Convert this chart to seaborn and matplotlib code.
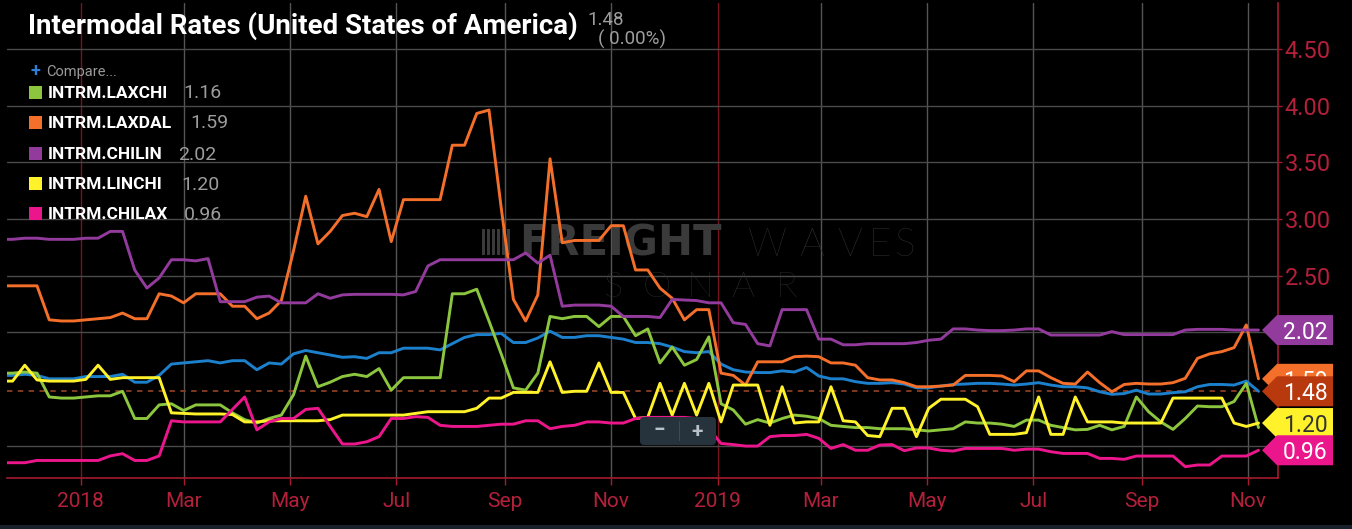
import numpy as np
import pandas as pd
import matplotlib
matplotlib.use("Agg")
import matplotlib.pyplot as plt
import matplotlib.transforms as mtransforms
from matplotlib.patches import Polygon, Rectangle, FancyBboxPatch
import seaborn as sns

# ---------------- data (weekly) ----------------
start_date = "2017-11-16"

usa = [1.62, 1.62, 1.63, 1.62, 1.59, 1.59, 1.59, 1.61, 1.61, 1.61, 1.63, 1.56, 1.56, 1.62, 1.72, 1.73,
       1.74, 1.75, 1.73, 1.75, 1.75, 1.67, 1.73, 1.72, 1.81, 1.84, 1.82, 1.80,
       1.78, 1.785, 1.77, 1.82, 1.82, 1.86, 1.86, 1.86, 1.845, 1.90, 1.955, 1.98, 1.98, 1.99, 1.91,
       1.91, 1.95, 2.01, 1.955, 1.955, 1.97, 1.97, 1.955, 1.94, 1.91, 1.91,
       1.90, 1.87, 1.83, 1.82, 1.83, 1.72, 1.67, 1.65, 1.645, 1.645, 1.66, 1.65, 1.69, 1.615, 1.59,
       1.59, 1.565, 1.55, 1.55, 1.556, 1.544, 1.51, 1.51, 1.526, 1.54, 1.544,
       1.55, 1.55, 1.544, 1.535, 1.544, 1.556, 1.535, 1.52, 1.52, 1.51, 1.476, 1.453, 1.46, 1.49,
       1.456, 1.456, 1.468, 1.476, 1.52, 1.54, 1.54, 1.535, 1.57, 1.48]

laxchi = [1.64, 1.64, 1.65, 1.64, 1.43, 1.42, 1.42, 1.43, 1.44, 1.44, 1.48, 1.24, 1.24, 1.36, 1.37, 1.31,
          1.36, 1.36, 1.36, 1.29, 1.23, 1.20, 1.24, 1.27, 1.45, 1.79, 1.52, 1.56,
          1.61, 1.63, 1.61, 1.68, 1.49, 1.60, 1.60, 1.60, 1.60, 2.34, 2.34, 2.38, 2.10, 1.81, 1.51,
          1.49, 1.64, 2.14, 2.12, 2.14, 2.14, 2.05, 2.14, 2.14, 1.97, 2.03,
          1.73, 1.87, 1.71, 1.76, 1.96, 1.37, 1.315, 1.19, 1.23, 1.20, 1.24, 1.27, 1.26, 1.24, 1.18,
          1.17, 1.16, 1.16, 1.15, 1.15, 1.15, 1.14, 1.13, 1.14, 1.15, 1.21,
          1.20, 1.20, 1.19, 1.17, 1.226, 1.226, 1.18, 1.16, 1.14, 1.144, 1.18, 1.14, 1.17, 1.43,
          1.30, 1.21, 1.144, 1.24, 1.35, 1.344, 1.344, 1.39, 1.55, 1.16]

laxdal = [2.41, 2.41, 2.41, 2.41, 2.11, 2.10, 2.10, 2.11, 2.12, 2.13, 2.17, 2.12, 2.12, 2.34, 2.32, 2.26,
          2.34, 2.34, 2.34, 2.23, 2.23, 2.12, 2.17, 2.28, 2.72, 3.20, 2.78, 2.89,
          3.03, 3.05, 3.02, 3.26, 2.80, 3.17, 3.17, 3.17, 3.17, 3.65, 3.65, 3.93, 3.96, 3.10, 2.29,
          2.10, 2.33, 3.53, 2.79, 2.81, 2.81, 2.81, 2.94, 2.94, 2.55, 2.55,
          2.39, 2.30, 2.11, 2.20, 2.20, 1.64, 1.62, 1.535, 1.74, 1.74, 1.74, 1.785, 1.79, 1.785, 1.73,
          1.73, 1.71, 1.60, 1.58, 1.58, 1.556, 1.52, 1.52, 1.526, 1.535, 1.62,
          1.62, 1.62, 1.615, 1.565, 1.66, 1.66, 1.60, 1.55, 1.544, 1.65, 1.556, 1.476, 1.54, 1.55,
          1.544, 1.544, 1.556, 1.594, 1.77, 1.81, 1.83, 1.865, 2.065, 1.59]

chilin = [2.82, 2.82, 2.83, 2.83, 2.82, 2.82, 2.82, 2.83, 2.83, 2.89, 2.89, 2.55, 2.39, 2.48, 2.64, 2.64,
          2.63, 2.65, 2.27, 2.27, 2.27, 2.31, 2.32, 2.26, 2.26, 2.26, 2.34, 2.30,
          2.33, 2.335, 2.335, 2.335, 2.335, 2.33, 2.36, 2.585, 2.64, 2.64, 2.64, 2.64, 2.64, 2.64, 2.64,
          2.70, 2.61, 2.68, 2.23, 2.24, 2.24, 2.24, 2.23, 2.14, 2.14, 2.14,
          2.13, 2.29, 2.285, 2.28, 2.26, 2.26, 2.085, 2.07, 1.90, 1.88, 2.20, 2.20, 2.20, 1.94, 1.94,
          1.89, 1.89, 1.90, 1.90, 1.90, 1.90, 1.91, 1.93, 1.94, 2.03, 2.03,
          2.02, 2.015, 2.015, 2.02, 2.03, 2.03, 1.976, 1.976, 1.976, 1.976, 1.976, 2.006, 1.98, 1.98,
          1.98, 1.98, 1.98, 2.02, 2.026, 2.026, 2.026, 2.02, 2.02, 2.02]

linchi = [1.57, 1.57, 1.71, 1.58, 1.57, 1.57, 1.57, 1.585, 1.71, 1.585, 1.60, 1.60, 1.60, 1.60, 1.29, 1.285,
          1.28, 1.28, 1.28, 1.275, 1.21, 1.21, 1.22, 1.22, 1.22, 1.22, 1.22, 1.23,
          1.27, 1.27, 1.27, 1.27, 1.27, 1.27, 1.285, 1.30, 1.30, 1.30, 1.30, 1.33, 1.42, 1.42, 1.47,
          1.47, 1.47, 1.74, 1.47, 1.48, 1.48, 1.73, 1.47, 1.47, 1.24, 1.25,
          1.55, 1.27, 1.55, 1.27, 1.55, 1.21, 1.535, 1.535, 1.535, 1.18, 1.52, 1.20, 1.21, 1.21, 1.52,
          1.22, 1.21, 1.09, 1.08, 1.33, 1.33, 1.08, 1.33, 1.41, 1.41, 1.41,
          1.344, 1.10, 1.10, 1.10, 1.115, 1.43, 1.10, 1.10, 1.43, 1.21, 1.21, 1.21, 1.20, 1.20,
          1.20, 1.20, 1.42, 1.42, 1.42, 1.42, 1.42, 1.20, 1.17, 1.20]

chilax = [0.85, 0.85, 0.85, 0.87, 0.87, 0.87, 0.87, 0.87, 0.87, 0.91, 0.93, 0.87, 0.87, 0.91, 1.22, 1.21,
          1.21, 1.21, 1.21, 1.32, 1.43, 1.14, 1.21, 1.24, 1.24, 1.32, 1.33, 1.17,
          1.015, 1.015, 1.035, 1.08, 1.24, 1.24, 1.256, 1.25, 1.18, 1.17, 1.17, 1.17, 1.18, 1.19, 1.19,
          1.22, 1.22, 1.15, 1.17, 1.18, 1.21, 1.21, 1.20, 1.20, 1.24, 1.25,
          1.25, 1.25, 1.25, 1.24, 1.15, 1.02, 1.01, 0.997, 0.997, 1.08, 1.09, 1.09, 1.10, 1.065, 0.976,
          1.01, 0.96, 0.96, 1.006, 1.01, 0.956, 0.98, 0.98, 0.96, 0.953, 0.976,
          0.976, 0.976, 0.976, 0.96, 0.97, 0.97, 0.947, 0.932, 0.932, 0.932, 0.888, 0.888, 0.88, 0.909,
          0.909, 0.909, 0.909, 0.815, 0.83, 0.83, 0.909, 0.909, 0.909, 0.96]

series_keys = ["USA", "INTRM.LAXCHI", "INTRM.LAXDAL", "INTRM.CHILIN", "INTRM.LINCHI", "INTRM.CHILAX"]
series_values = [usa, laxchi, laxdal, chilin, linchi, chilax]

title_text = "Intermodal Rates (United States of America)"
title_value = "1.48"
title_change = "( 0.00%)"
legend_labels = ["INTRM.LAXCHI", "INTRM.LAXDAL", "INTRM.CHILIN", "INTRM.LINCHI", "INTRM.CHILAX"]
legend_values = ["1.16", "1.59", "2.02", "1.20", "0.96"]

y_ticks = [1.0, 1.5, 2.0, 2.5, 3.0, 3.5, 4.0, 4.5]
# 1.00 / 1.50 / 2.00 sit under the value tags in the reference, so they are not visible
y_tick_labels = ["", "", "", "2.50", "3.00", "3.50", "4.00", "4.50"]
x_tick_dates = pd.date_range("2018-01-01", "2019-11-01", freq="2MS")
x_tick_labels = ["2018", "Mar", "May", "Jul", "Sep", "Nov", "2019", "Mar", "May", "Jul", "Sep", "Nov"]

# ---------------- styles ----------------
colors = {"USA": "#1c80cc", "INTRM.LAXCHI": "#8cc63e", "INTRM.LAXDAL": "#f36f2a",
          "INTRM.CHILIN": "#933b9d", "INTRM.LINCHI": "#fff22a", "INTRM.CHILAX": "#ec168c"}
tag_colors = {"USA": "#b9390f", "INTRM.LAXCHI": "#8cc63e", "INTRM.LAXDAL": "#f36f2a",
              "INTRM.CHILIN": "#933b9d", "INTRM.LINCHI": "#fff22a", "INTRM.CHILAX": "#ec168c"}
draw_order = ["USA", "INTRM.LAXCHI", "INTRM.LAXDAL", "INTRM.CHILIN", "INTRM.LINCHI", "INTRM.CHILAX"]
RED = "#a51b2e"
RED_TXT = "#b3203a"

sns.set_theme(style="dark")
plt.rcParams["font.family"] = ["Roboto", "DejaVu Sans"]
NARROW = ["Liberation Sans Narrow", "Roboto", "DejaVu Sans"]

W, H = 1352, 529
fig = plt.figure(figsize=(W / 100, H / 100), dpi=100, facecolor="black")
L, R, T, B = 7, 1277.7, 3, 477.7
ax = fig.add_axes([L / W, 1 - B / H, (R - L) / W, (B - T) / H])
ax.set_facecolor("black")

def fx(px):
    return px / W

def fy(py):
    return 1 - py / H

def axx(px):
    return (px - L) / (R - L)

# ---------------- data frame & lines ----------------
n = len(usa)
dates = pd.date_range(start_date, periods=n, freq="7D")
df = pd.DataFrame({
    "date": np.tile(dates, len(series_keys)),
    "value": np.concatenate([np.asarray(v, float) for v in series_values]),
    "series": np.repeat(series_keys, n),
})

base = pd.Timestamp("2018-01-01")
YMIN, YMAX = 0.718, 4.904

# grid
for d in x_tick_dates:
    ax.axvline(d, color=("#7a1322" if d.month == 1 else "#555555"), lw=1.0, zorder=0.5)
for v in y_ticks:
    if v != 1.5:
        ax.axhline(v, color="#4a4a4a", lw=1.0, zorder=0.5)

sns.lineplot(data=df, x="date", y="value", hue="series", hue_order=draw_order,
             palette=colors, linewidth=2.1, legend=False, estimator=None, ax=ax, zorder=3)

# last value dashed line of the main series
ax.axhline(usa[-1], color="#8a3e22", lw=1.3, ls=(0, (3, 3)), zorder=2)

ax.set_xlim(base - pd.Timedelta(days=42.2), base + pd.Timedelta(days=686))
ax.set_ylim(YMIN, YMAX)
ax.set_xlabel("")
ax.set_ylabel("")
ax.grid(False)

for s in ["top", "left"]:
    ax.spines[s].set_visible(False)
for s in ["right", "bottom"]:
    ax.spines[s].set_visible(True)
    ax.spines[s].set_color(RED)
    ax.spines[s].set_linewidth(1.2)

ax.yaxis.tick_right()
ax.set_yticks(y_ticks)
ax.set_yticklabels(y_tick_labels)
ax.tick_params(axis="y", right=True, left=False, length=3, width=1, color=RED,
               labelcolor=RED_TXT, labelsize=17, pad=2)
ax.set_xticks(x_tick_dates)
ax.set_xticklabels(x_tick_labels)
ax.tick_params(axis="x", bottom=True, length=5, width=1, color=RED,
               labelcolor=RED_TXT, labelsize=15, pad=5)

# ---------------- value tags on the right ----------------
ytrans = ax.get_yaxis_transform()
h = 15 / ((B - T) / (YMAX - YMIN))
tag_order = ["INTRM.CHILIN", "INTRM.LAXDAL", "USA", "INTRM.LINCHI", "INTRM.CHILAX"]
for i, key in enumerate(tag_order):
    v = series_values[series_keys.index(key)][-1]
    verts = [(axx(1262), v), (axx(1277), v + h), (axx(1333), v + h),
             (axx(1333), v - h), (axx(1277), v - h)]
    poly = Polygon(verts, closed=True, transform=ytrans, facecolor=tag_colors[key],
                   edgecolor="none", clip_on=False, zorder=20 + 2 * i)
    ax.add_patch(poly)
    tc = "#333333" if key == "INTRM.LINCHI" else "white"
    ax.text(axx(1305), v, f"{v:.2f}", transform=ytrans, ha="center", va="center_baseline",
            fontsize=16.5, color=tc, clip_on=False, zorder=21 + 2 * i)

# ---------------- watermark ----------------
ax.text(fx(519), fy(256), "FREIGHT", transform=fig.transFigure, fontsize=30,
        fontweight="bold", color="#3a3a3a", ha="left", va="baseline", zorder=1,
        family=["DejaVu Sans"])
for ch, cx in zip("WAVES", [767, 812, 850, 880, 905]):
    ax.text(fx(cx), fy(256), ch, transform=fig.transFigure, fontsize=28,
            fontweight="light", color="#3a3a3a", ha="center", va="baseline", zorder=1,
            family=["Lato", "Roboto", "DejaVu Sans"])
for i, ch in enumerate("SONAR"):
    ax.text(fx(614 + 43 * i), fy(297), ch, transform=fig.transFigure, fontsize=26,
            fontweight="light", color="#383838", ha="center", va="baseline", zorder=1,
            family=["Lato", "Roboto", "DejaVu Sans"])
for i in range(6):
    ax.add_patch(Rectangle((fx(482 + 5 * i), fy(255)), 2.5 / W, 26 / H,
                           transform=fig.transFigure, facecolor="#3a3a3a",
                           edgecolor="none", zorder=1, clip_on=False))

# ---------------- zoom control box ----------------
box = FancyBboxPatch((640, H - 445), 76, 28, boxstyle="round,pad=0,rounding_size=4",
                     transform=mtransforms.IdentityTransform(), facecolor="#26323c",
                     edgecolor="none", zorder=5)
fig.add_artist(box)
fig.add_artist(Rectangle((679, H - 441), 1, 20, transform=mtransforms.IdentityTransform(),
                         facecolor="#3d4b57", edgecolor="none", zorder=6))
fig.text(fx(659), fy(431), "\u2212", fontsize=15, fontweight="bold", color="#b8c0c8",
         ha="center", va="center", zorder=7)
fig.text(fx(697), fy(431), "+", fontsize=15, fontweight="bold", color="#b8c0c8",
         ha="center", va="center", zorder=7)

# ---------------- title & legend ----------------
fig.text(fx(28), fy(34), title_text, fontsize=19.9, fontweight="bold", color="white",
         ha="left", va="baseline", family=NARROW, zorder=10)
fig.text(fx(587), fy(25), title_value, fontsize=13.5, color="#9e9e9e",
         ha="left", va="baseline", zorder=10)
fig.text(fx(598), fy(45), title_change, fontsize=13.5, color="#9e9e9e",
         ha="left", va="baseline", zorder=10)

fig.text(fx(35), fy(71), "+", fontsize=13, fontweight="bold", color="#2b7fd6",
         ha="center", va="center", zorder=10)
fig.text(fx(46), fy(76), "Compare...", fontsize=10.5, color="#9a9a9a",
         ha="left", va="baseline", zorder=10)

row_y = [92, 122, 153, 183, 213]
val_x = [183, 190, 178, 181, 184]
for lbl, val, yy, vx in zip(legend_labels, legend_values, row_y, val_x):
    fig.add_artist(Rectangle((fx(29), fy(yy + 6.5)), 13 / W, 13 / H, transform=fig.transFigure,
                             facecolor=colors[lbl], edgecolor="none", zorder=10))
    fig.text(fx(48), fy(yy + 6), lbl, fontsize=12.5, fontweight="bold", color="white",
             ha="left", va="baseline", family=NARROW, zorder=10)
    fig.text(fx(vx), fy(yy + 6.5), val, fontsize=14, color="#9c9c9c",
             ha="left", va="baseline", zorder=10)

# bottom strip
fig.add_artist(Rectangle((0, 0), 1, 4 / H, transform=fig.transFigure,
                         facecolor="#18212b", edgecolor="none", zorder=10))

fig.savefig("out.png", dpi=100, facecolor="black")
